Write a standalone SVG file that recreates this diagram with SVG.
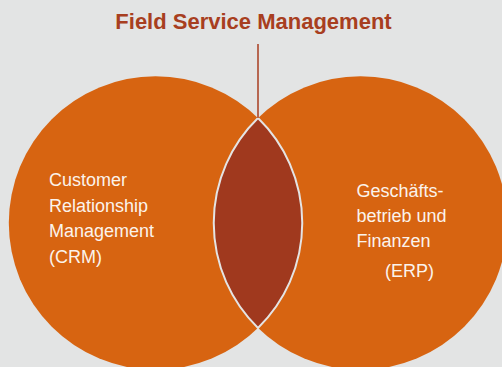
<svg xmlns="http://www.w3.org/2000/svg" width="502" height="367" viewBox="0 0 502 367">
  <style>
    .ring { fill: #d76411; }
    .lens { fill: #a0391e; stroke: #e4e4e4; stroke-width: 2; }
    .label { font-family: "Liberation Sans", Arial, sans-serif; font-size: 18px; fill: #fbf3ec; }
    .title { font-family: "Liberation Sans", Arial, sans-serif; font-size: 22px; font-weight: bold; fill: #a83e20; }
  </style>
  <rect width="502" height="367" fill="#e3e4e4"/>

  <g id="crm">
    <circle class="ring" cx="155.5" cy="223" r="146.7"/>
    <text class="label" x="49" y="186">Customer</text>
    <text class="label" x="49" y="211.5">Relationship</text>
    <text class="label" x="49" y="237">Management</text>
    <text class="label" x="49" y="262.5">(CRM)</text>
  </g>

  <g id="erp">
    <circle class="ring" cx="360.5" cy="223" r="146.7"/>
    <text class="label" x="356.5" y="197">Geschäfts-</text>
    <text class="label" x="356.5" y="222">betrieb und</text>
    <text class="label" x="356.5" y="247">Finanzen</text>
    <text class="label" x="385" y="277">(ERP)</text>
  </g>

  <g id="fsm">
    <!-- overlap of the two circles -->
    <path class="lens" d="M258 118 A146.7 146.7 0 0 1 258 328 A146.7 146.7 0 0 1 258 118 Z"/>
    <text class="title" x="253.5" y="29" text-anchor="middle">Field Service Management</text>
  </g>

  <g id="connectors">
    <line x1="258" y1="44" x2="258" y2="118" stroke="#a83e20" stroke-width="1.5"/>
  </g>
</svg>
